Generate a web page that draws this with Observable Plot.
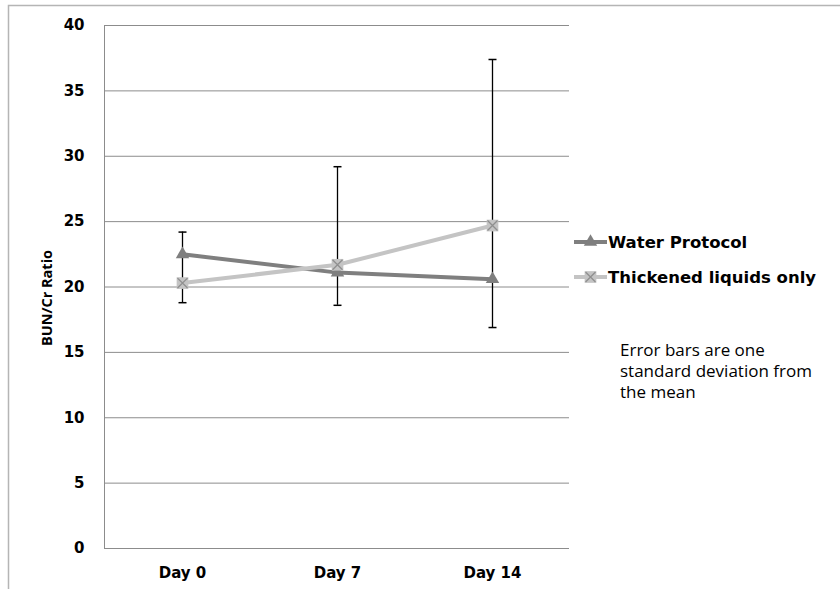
<!DOCTYPE html>
<html>
<head>
<meta charset="utf-8">
<script src="https://cdn.jsdelivr.net/npm/d3@7"></script>
<script src="https://cdn.jsdelivr.net/npm/@observablehq/plot@0.6"></script>
<style>
  html, body { margin: 0; padding: 0; background: #fff; }
  #chart svg { display: block; font-family: "DejaVu Sans", sans-serif; }
</style>
</head>
<body>
<div id="chart"></div>
<script>
const days = ["Day 0", "Day 7", "Day 14"];
const waterProtocol = [22.5, 21.1, 20.6];
const thickenedLiquids = [20.3, 21.7, 24.7];
const errorLow = [18.8, 18.6, 16.9];
const errorHigh = [24.2, 29.2, 37.4];
const yTicks = [0, 5, 10, 15, 20, 25, 30, 35, 40];
const seriesNames = ["Water Protocol", "Thickened liquids only"];
const noteLines = ["Error bars are one", "standard deviation from", "the mean"];
const yLabel = "BUN/Cr Ratio";

const water = days.map((d, i) => ({day: d, value: waterProtocol[i]}));
const thick = days.map((d, i) => ({day: d, value: thickenedLiquids[i]}));
const errs = days.map((d, i) => ({day: d, low: errorLow[i], high: errorHigh[i]}));

const capSymbol = {
  draw(context) { context.moveTo(-4, 0); context.lineTo(4, 0); }
};

const W = 840, H = 589;
const mL = 104, mR = 271, mT = 25, mB = 41;

const plot = Plot.plot({
  width: W,
  height: H,
  marginLeft: mL,
  marginRight: mR,
  marginTop: mT,
  marginBottom: mB,
  style: {fontFamily: "DejaVu Sans, sans-serif", background: "#fff"},
  x: {type: "point", domain: days, padding: 0.5, label: null},
  y: {domain: [0, 40], ticks: yTicks, label: null},
  marks: [
    Plot.gridY(yTicks, {stroke: "#8c8c8c", strokeOpacity: 1, strokeWidth: 1}),
    Plot.frame({anchor: "left", stroke: "#8c8c8c"}),
    Plot.axisY(yTicks, {tickSize: 0, tickPadding: 20, fontSize: 15, fontWeight: "bold", fill: "#000", label: null}),
    Plot.axisX({tickSize: 0, tickPadding: 19, fontSize: 15, fontWeight: "bold", fill: "#000", label: null}),
    Plot.ruleX(errs, {x: "day", y1: "low", y2: "high", stroke: "#000", strokeWidth: 1.3}),
    Plot.dot(errs, {x: "day", y: "low", symbol: capSymbol, stroke: "#000", strokeWidth: 1.5, r: 4}),
    Plot.dot(errs, {x: "day", y: "high", symbol: capSymbol, stroke: "#000", strokeWidth: 1.5, r: 4}),
    Plot.line(water, {x: "day", y: "value", stroke: "#7f7f7f", strokeWidth: 4}),
    Plot.dot(water, {x: "day", y: "value", symbol: "triangle", fill: "#7f7f7f", stroke: "none", r: 5}),
    Plot.line(thick, {x: "day", y: "value", stroke: "#c4c4c4", strokeWidth: 4}),
    Plot.dot(thick, {x: "day", y: "value", symbol: "square", fill: "#c4c4c4", stroke: "none", r: 6.6}),
    Plot.dot(thick, {x: "day", y: "value", symbol: "times", stroke: "#8f8f8f", strokeWidth: 1.3, r: 4.6})
  ]
});

const svg = d3.select(plot);
// outer chart-area border
svg.insert("rect", ":first-child")
  .attr("x", 8.5).attr("y", 5.5).attr("width", 900).attr("height", 900)
  .attr("fill", "none").attr("stroke", "#b5b5b5").attr("stroke-width", 1.5);

// y axis title
svg.append("text")
  .attr("transform", "translate(47,298) rotate(-90)")
  .attr("text-anchor", "middle")
  .attr("dy", "0.36em")
  .attr("font-family", "Open Sans, sans-serif")
  .attr("font-size", 14.5).attr("font-weight", "bold").attr("fill", "#000")
  .text(yLabel);

// legend
const leg = svg.append("g").attr("font-family", "DejaVu Sans, sans-serif").attr("text-anchor", "start");
const legY = [242, 277];
const legColors = ["#7f7f7f", "#c4c4c4"];
seriesNames.forEach((name, i) => {
  const g = leg.append("g").attr("transform", `translate(574,${legY[i]})`);
  g.append("line").attr("x1", 0).attr("x2", 33).attr("stroke", legColors[i]).attr("stroke-width", 4);
  if (i === 0) {
    g.append("path").attr("d", d3.symbol(d3.symbolTriangle, 78)()).attr("transform", "translate(16.5,0)").attr("fill", legColors[i]);
  } else {
    g.append("path").attr("d", d3.symbol(d3.symbolSquare, 137)()).attr("transform", "translate(16.5,0)").attr("fill", legColors[i]);
    g.append("path").attr("d", d3.symbol(d3.symbolTimes, 66)()).attr("transform", "translate(16.5,0)")
      .attr("fill", "none").attr("stroke", "#8f8f8f").attr("stroke-width", 1.3);
  }
  g.append("text").attr("x", 34).attr("dy", "0.36em").attr("font-size", 16.5).attr("font-weight", "bold")
    .attr("fill", "#000").text(name);
});

// note
const note = svg.append("text").attr("font-family", "Open Sans, sans-serif").attr("font-size", 17)
  .attr("text-anchor", "start").attr("fill", "#000");
noteLines.forEach((t, i) => {
  note.append("tspan").attr("x", 620).attr("y", 356 + i * 21).text(t);
});

document.getElementById("chart").appendChild(plot);
</script>
</body>
</html>
